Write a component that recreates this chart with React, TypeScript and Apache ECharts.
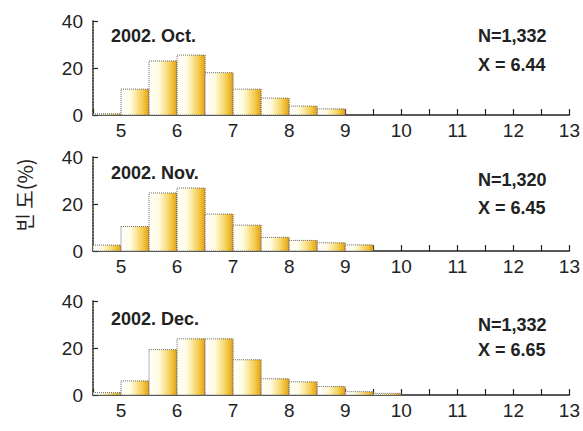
import React, { useEffect, useRef } from "react";
import * as echarts from "echarts";

// bin start values (each bin is 0.5 wide)
const binStarts = [4.5, 5, 5.5, 6, 6.5, 7, 7.5, 8, 8.5, 9, 9.5];
const octValues = [0.5, 11, 23, 25.5, 18, 11, 7.2, 3.8, 2.6, 0, 0];
const novValues = [2.5, 10.4, 24.7, 26.8, 15.7, 11, 5.8, 4.5, 3.5, 2.6, 0];
const decValues = [1, 6, 19.3, 23.9, 23.9, 15, 6.9, 5.6, 3.6, 1.4, 0.7];

const panelTitles = ["2002. Oct.", "2002. Nov.", "2002. Dec."];
const panelN = ["N=1,332", "N=1,320", "N=1,332"];
const panelMean = ["X = 6.44", "X = 6.45", "X = 6.65"];
const yTicks = [0, 20, 40];
const xMin = 4.5;
const xMax = 13;
const BIN = 0.5;

const gridTops = [21, 157, 301];
const gridHeight = 94;
const FONT = "'Liberation Sans', Arial, sans-serif";

export default function App() {
  const ref = useRef<HTMLDivElement>(null);
  useEffect(() => {
    if (!ref.current) return;
    const chart = echarts.init(ref.current, null, { renderer: "svg" });
    const allValues = [octValues, novValues, decValues];
    const grids = gridTops.map((t) => ({ left: 93, right: 13, top: t, height: gridHeight }));
    const xAxes = gridTops.map((_, i) => ({
      type: "value",
      gridIndex: i,
      min: xMin,
      max: xMax,
      interval: 0.5,
      axisLine: { lineStyle: { color: "#222", width: 1.5 } },
      axisTick: { inside: true, length: 6, lineStyle: { color: "#222", width: 1.2 } },
      axisLabel: {
        color: "#222",
        fontSize: 19,
        fontFamily: FONT,
        margin: 6,
        formatter: (v: number) => (Number.isInteger(v) ? String(v) : ""),
      },
      splitLine: { show: false },
    }));
    const yAxes = gridTops.map((_, i) => ({
      type: "value",
      gridIndex: i,
      min: yTicks[0],
      max: yTicks[yTicks.length - 1],
      interval: 20,
      axisLine: { show: true, lineStyle: { color: "#222", width: 1.5, type: [2, 1] } },
      axisTick: { show: true, inside: true, length: 5, lineStyle: { color: "#222", width: 1.2 } },
      axisLabel: { color: "#222", fontSize: 19, fontFamily: FONT, margin: 10 },
      splitLine: { show: false },
    }));
    const series = allValues.map((vals, i) => ({
      type: "custom",
      xAxisIndex: i,
      yAxisIndex: i,
      data: binStarts.map((b, j) => [b, vals[j]]),
      renderItem: (params: any, api: any) => {
        const x0 = api.value(0);
        const v = api.value(1);
        if (!v) return null;
        const p0 = api.coord([x0, 0]);
        const p1 = api.coord([x0 + BIN, v]);
        return {
          type: "rect",
          shape: { x: p0[0], y: p1[1], width: p1[0] - p0[0], height: p0[1] - p1[1] },
          style: {
            fill: new echarts.graphic.LinearGradient(0, 0, 1, 0, [
              { offset: 0, color: "#ffffff" },
              { offset: 0.35, color: "#fffbe0" },
              { offset: 0.75, color: "#f5cf55" },
              { offset: 1, color: "#e3a010" },
            ]),
            stroke: "#666",
            lineWidth: 1,
            lineDash: [1, 1],
          },
        };
      },
    }));
    const graphics: any[] = [
      {
        type: "text",
        x: 24,
        y: 195,
        rotation: Math.PI / 2,
        style: {
          text: "빈 도(%)",
          fontSize: 20,
          fontFamily: "'Noto Sans CJK KR', sans-serif",
          fill: "#222",
          align: "center",
          verticalAlign: "middle",
        },
      },
    ];
    const titleY = [36, 173, 319];
    const nY = [36, 180, 325];
    const mY = [65, 208, 350];
    const txt = (x: number, y: number, text: string) => ({
      type: "text",
      x,
      y,
      style: { text, fontSize: 18, fontWeight: "bold", fontFamily: FONT, fill: "#222", verticalAlign: "middle" },
    });
    for (let i = 0; i < 3; i++) {
      graphics.push(txt(111, titleY[i], panelTitles[i]));
      graphics.push(txt(478, nY[i], panelN[i]));
      graphics.push(txt(478, mY[i], panelMean[i]));
    }
    chart.setOption({
      animation: false,
      backgroundColor: "#ffffff",
      grid: grids,
      xAxis: xAxes,
      yAxis: yAxes,
      series,
      graphic: graphics,
    });
    return () => chart.dispose();
  }, []);
  return <div ref={ref} style={{ position: "absolute", left: 0, top: 0, width: 583, height: 431 }} />;
}
